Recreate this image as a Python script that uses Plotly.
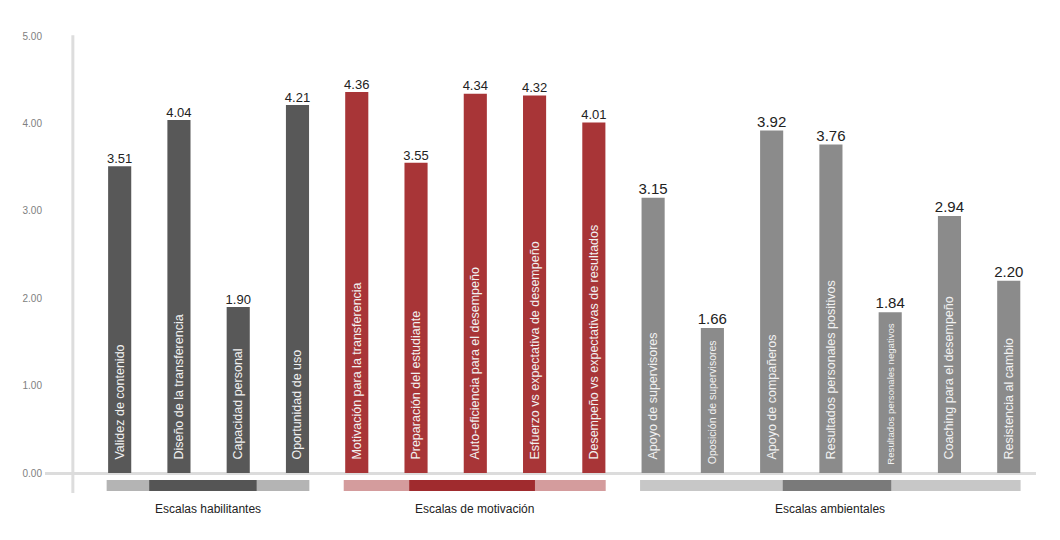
import plotly.graph_objects as go

# Data
labels = [
    'Validez de contenido', 'Diseño de la transferencia', 'Capacidad personal', 'Oportunidad de uso',
    'Motivación para la transferencia', 'Preparación del estudiante', 'Auto-eficiencia para el desempeño',
    'Esfuerzo vs expectativa de desempeño', 'Desempeño vs expectativas de resultados',
    'Apoyo de supervisores', 'Oposición de supervisores', 'Apoyo de compañeros',
    'Resultados personales positivos', 'Resultados personales negativos',
    'Coaching para el desempeño', 'Resistencia al cambio',
]
values = [3.51, 4.04, 1.90, 4.21,
          4.36, 3.55, 4.34, 4.32, 4.01,
          3.15, 1.66, 3.92, 3.76, 1.84, 2.94, 2.20]
group_names = ['Escalas habilitantes', 'Escalas de motivación', 'Escalas ambientales']
group_sizes = [4, 5, 7]
y_ticks = [0, 1, 2, 3, 4, 5]

# Styles per group
bar_colors = ['#585858', '#a83537', '#8b8b8b']
band_light = ['#b4b4b4', '#d49c9d', '#c7c7c7']
band_dark = ['#555555', '#a02b2e', '#7a7a7a']
dark_span = [(0.21, 0.74), (0.25, 0.73), (0.375, 0.66)]
value_font = [13, 13, 15]
font = 'Liberation Sans'

idx = list(range(len(values)))
group_of = []
for g, n in enumerate(group_sizes):
    group_of += [g] * n

inside_sizes = [12.5] * len(values)
inside_sizes[10] = 10.5
inside_sizes[13] = 9.6

# pad the inside labels a little off the bar base
inside_text = ['\u00a0' * 3 + s for s in labels]
inside_text[10] = '\u00a0' * 2 + labels[10]
inside_text[13] = '\u00a0' * 2 + labels[13]

fig = go.Figure()

fig.add_trace(go.Bar(
    x=idx,
    y=values,
    width=0.39,
    marker=dict(color=[bar_colors[g] for g in group_of], line=dict(width=0)),
    text=inside_text,
    textposition='inside',
    insidetextanchor='start',
    textangle=-90,
    constraintext='none',
    textfont=dict(family=font, size=inside_sizes, color='#f2f2f2'),
    customdata=labels,
    hovertemplate='%{customdata}: %{y:.2f}<extra></extra>',
    showlegend=False,
))

fig.add_trace(go.Scatter(
    x=idx,
    y=values,
    mode='text',
    text=[f'{v:.2f}' for v in values],
    textposition='top center',
    textfont=dict(family=font, size=[value_font[g] for g in group_of], color='#222222'),
    hoverinfo='skip',
    showlegend=False,
))

# Group bands and labels under the axis
shapes = []
annotations = []
start = 0
for g, n in enumerate(group_sizes):
    x0 = start - 0.22
    x1 = start + n - 1 + 0.2
    w = x1 - x0
    shapes.append(dict(type='rect', xref='x', yref='y', x0=x0, x1=x1, y0=-0.206, y1=-0.08,
                       fillcolor=band_light[g], line=dict(width=0), layer='above'))
    shapes.append(dict(type='rect', xref='x', yref='y',
                       x0=x0 + w * dark_span[g][0], x1=x0 + w * dark_span[g][1],
                       y0=-0.206, y1=-0.08,
                       fillcolor=band_dark[g], line=dict(width=0), layer='above'))
    annotations.append(dict(x=(x0 + x1) / 2, y=-0.41, xref='x', yref='y', text=group_names[g],
                            showarrow=False, font=dict(family=font, size=12, color='#222222')))
    start += n

# vertical axis line
shapes.append(dict(type='line', xref='x', yref='y', x0=-0.79, x1=-0.79, y0=-0.23, y1=5.01,
                   line=dict(color='#dddddd', width=3), layer='below'))

fig.update_layout(
    width=1060,
    height=540,
    margin=dict(l=37, r=32, t=22, b=18),
    plot_bgcolor='white',
    paper_bgcolor='white',
    shapes=shapes,
    annotations=annotations,
    xaxis=dict(range=[-1.26, 15.46], showticklabels=False, showgrid=False, zeroline=False,
               showline=False, fixedrange=True),
    yaxis=dict(range=[-0.652, 5.069], tickvals=y_ticks, tickformat='.2f', showgrid=False,
               zeroline=True, zerolinecolor='#dcdcdc', zerolinewidth=3, showline=False,
               tickfont=dict(family=font, size=10, color='#808080'), ticklabelstandoff=2),
    font=dict(family=font),
)

fig.write_html('out.html')
